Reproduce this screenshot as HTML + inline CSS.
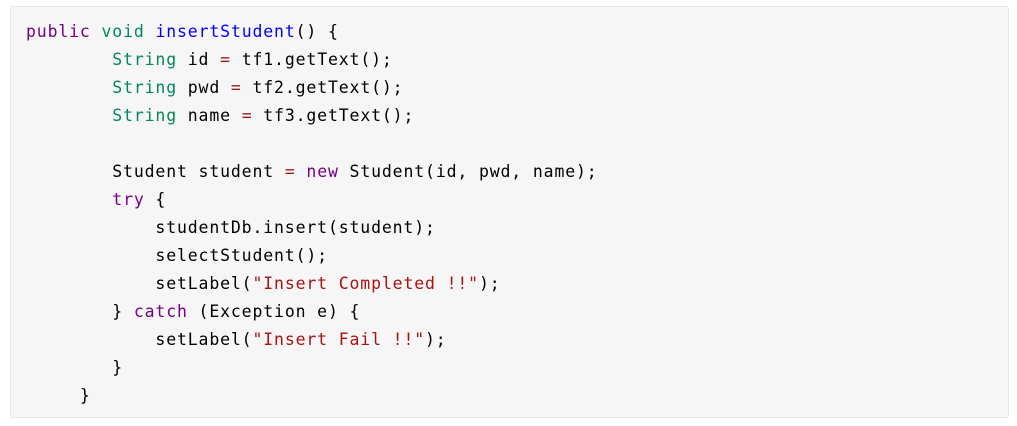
<!DOCTYPE html>
<html><head><style>
body{margin:0;background:#fff;width:1017px;height:426px;overflow:hidden}
.box{position:absolute;left:10px;top:6px;width:997px;height:410px;background:#f6f6f6;border:1px solid #e6e6e6;border-radius:3px}
pre{position:absolute;left:26px;top:18px;margin:0;font-family:"DejaVu Sans Mono","Liberation Mono",monospace;font-size:16.5px;letter-spacing:0.85px;line-height:28px;color:#000}
.k{color:#770088}.t{color:#008855}.d{color:#0000ff}.o{color:#981a1a}.s{color:#aa1111}
</style></head><body>
<div class="box"></div>
<pre><span class="k">public</span> <span class="t">void</span> <span class="d">insertStudent</span>() {
        <span class="t">String</span> id <span class="o">=</span> tf1.getText();
        <span class="t">String</span> pwd <span class="o">=</span> tf2.getText();
        <span class="t">String</span> name <span class="o">=</span> tf3.getText();

        Student student <span class="o">=</span> <span class="k">new</span> Student(id, pwd, name);
        <span class="k">try</span> {
            studentDb.insert(student);
            selectStudent();
            setLabel(<span class="s">"Insert Completed !!"</span>);
        } <span class="k">catch</span> (Exception e) {
            setLabel(<span class="s">"Insert Fail !!"</span>);
        }
     }</pre>
</body></html>
